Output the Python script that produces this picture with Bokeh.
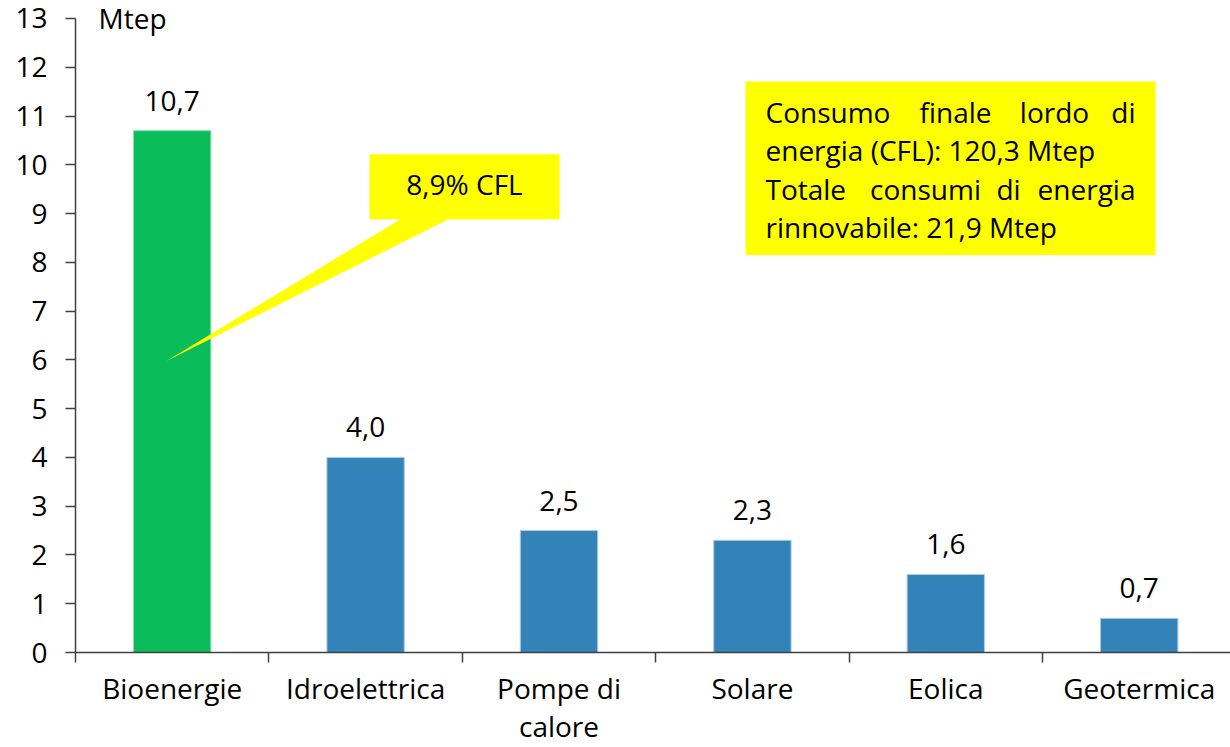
from bokeh.plotting import figure
from bokeh.models import Range1d, FixedTicker, Label, ColumnDataSource
from bokeh.core.properties import value
from bokeh.embed import file_html
from bokeh.resources import INLINE

# ---- data ----
categories = ["Bioenergie", "Idroelettrica", "Pompe di\ncalore", "Solare", "Eolica", "Geotermica"]
values = [10.7, 4.0, 2.5, 2.3, 1.6, 0.7]
bar_colors = ["#0BBD5A", "#3483B8", "#3483B8", "#3483B8", "#3483B8", "#3483B8"]
edge_colors = ["#8FDDB0", "#A9CDE6", "#A9CDE6", "#A9CDE6", "#A9CDE6", "#A9CDE6"]
y_ticks = list(range(0, 14))
unit_label = "Mtep"
callout_text = "8,9% CFL"
info_lines = [
    ["Consumo", "finale", "lordo", "di"],
    ["energia (CFL): 120,3 Mtep"],
    ["Totale", "consumi", "di", "energia"],
    ["rinnovabile: 21,9 Mtep"],
]

FONT = "Open Sans"
FS = "28px"
BL = 10  # empirical baseline correction (px)

# layout (page pixels -> data) helpers
W, H = 1230, 747
LEFT, TOP, BOTTOM = 75, 6, 94
frame_left_px = LEFT
frame_bottom_px = H - BOTTOM
px_per_cat = 193.4
px_per_unit = (frame_bottom_px - 18) / 13
x_end = (W - frame_left_px) / px_per_cat
y_end = (frame_bottom_px - TOP) / px_per_unit


def dx(px):
    return (px - frame_left_px) / px_per_cat


def dy(py):
    return (frame_bottom_px - py) / px_per_unit


p = figure(width=W, height=H, output_backend="svg", toolbar_location=None,
           x_range=Range1d(0, x_end), y_range=Range1d(0, y_end),
           min_border_left=LEFT, min_border_right=0, min_border_top=TOP,
           min_border_bottom=BOTTOM)
p.outline_line_color = None
p.xgrid.visible = False
p.ygrid.visible = False
p.background_fill_color = "white"

xs = [i + 0.5 for i in range(len(categories))]
src = ColumnDataSource(dict(x=xs, top=values, color=bar_colors, edge=edge_colors,
                            lab=[f"{v:.1f}".replace(".", ",") for v in values]))
p.vbar(x="x", top="top", bottom=0, width=0.4, fill_color="color",
       line_color="edge", line_width=1, source=src)
p.text(x="x", y="top", text="lab", source=src, text_align="center",
       text_baseline="alphabetic", y_offset=-30, text_font=value(FONT),
       text_font_size=FS, text_color="black")

# axes
ax = p.xaxis[0]
ax.ticker = FixedTicker(ticks=xs, minor_ticks=list(range(len(categories))))
ax.major_label_overrides = {x: c for x, c in zip(xs, categories)}
ax.major_tick_line_color = None
ax.major_tick_out = 6
ax.minor_tick_out = 10
ax.minor_tick_in = 0
ax.minor_tick_line_color = "#404040"
ax.minor_tick_line_width = 1.5
ax.axis_line_color = "#404040"
ax.axis_line_width = 1.5
ax.major_label_text_font = FONT
ax.major_label_text_font_size = FS
ax.major_label_text_line_height = 1.0
ax.major_label_text_color = "black"
ax.major_label_standoff = 6

ay = p.yaxis[0]
ay.ticker = FixedTicker(ticks=y_ticks)
ay.bounds = (y_ticks[0], y_ticks[-1])
ay.major_tick_out = 10
ay.major_tick_in = 0
ay.minor_tick_line_color = None
ay.major_tick_line_color = "#404040"
ay.major_tick_line_width = 1.5
ay.axis_line_color = "#404040"
ay.axis_line_width = 1.5
ay.major_label_text_font = FONT
ay.major_label_text_font_size = FS
ay.major_label_text_color = "black"
ay.major_label_standoff = 18

# unit label
p.add_layout(Label(x=dx(98), y=dy(28 - BL), text=unit_label, text_font=FONT,
                   text_font_size=FS, text_baseline="alphabetic",
                   text_align="left", text_color="black"))

# callout pointing to bioenergy bar
YEL = "#FFFF00"
p.patch(x=[dx(400), dx(448), dx(166)], y=[dy(219), dy(219), dy(361)],
        fill_color=YEL, line_color=None)
p.quad(left=dx(369), right=dx(559), top=dy(154), bottom=dy(219),
       fill_color=YEL, line_color=None)
p.text(x=[dx(464)], y=[dy(194 - BL)], text=[callout_text], text_align="center",
       text_baseline="alphabetic", text_font=value(FONT), text_font_size=FS,
       text_color="black")

# info box
p.quad(left=dx(745), right=dx(1155), top=dy(81), bottom=dy(255),
       fill_color=YEL, line_color=None)
baselines = [122, 160, 199, 237]
# (x position, alignment) of each word: justified lines use left / center / right
word_pos = [
    [(765, "left"), (955, "center"), (1054, "center"), (1135, "right")],
    [(765, "left")],
    [(765, "left"), (925, "center"), (1008, "center"), (1135, "right")],
    [(765, "left")],
]
for words, poss, bl in zip(info_lines, word_pos, baselines):
    for w, (px, al) in zip(words, poss):
        p.text(x=[dx(px)], y=[dy(bl - BL)], text=[w], text_align=al,
               text_baseline="alphabetic", text_font=value(FONT),
               text_font_size=FS, text_color="black")

open("out.html", "w").write(file_html(p, INLINE))
